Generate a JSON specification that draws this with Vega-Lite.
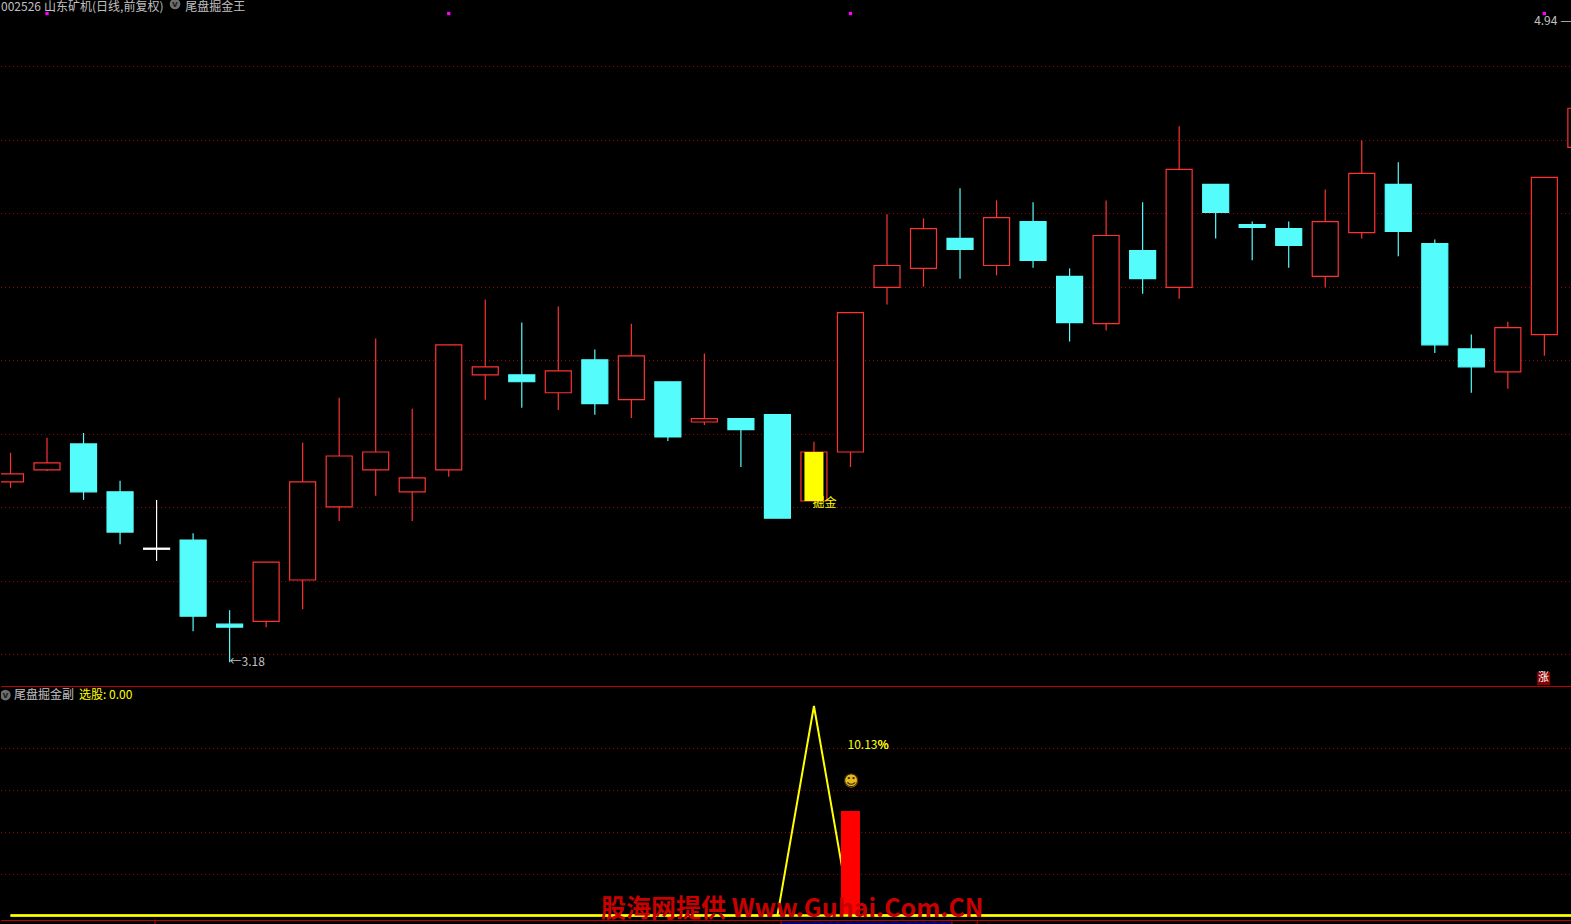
{"$schema":"https://vega.github.io/schema/vega-lite/v6.json","background":"#000000","padding":0,"spacing":0,"config":{"view":{"stroke":null},"text":{"font":"Noto Sans CJK SC"}},
"datasets":{"candles":[
{"i":0,"open":3.672,"close":3.694,"high":3.752,"low":3.656,"dir":"up"},
{"i":1,"open":3.705,"close":3.724,"high":3.793,"low":3.702,"dir":"up"},
{"i":2,"open":3.776,"close":3.645,"high":3.806,"low":3.623,"dir":"down"},
{"i":3,"open":3.645,"close":3.535,"high":3.675,"low":3.502,"dir":"down"},
{"i":4,"open":3.491,"close":3.488,"high":3.623,"low":3.456,"dir":"doji"},
{"i":5,"open":3.513,"close":3.305,"high":3.532,"low":3.264,"dir":"down"},
{"i":6,"open":3.283,"close":3.275,"high":3.321,"low":3.179,"dir":"down"},
{"i":7,"open":3.291,"close":3.453,"high":3.453,"low":3.275,"dir":"up"},
{"i":8,"open":3.404,"close":3.672,"high":3.779,"low":3.324,"dir":"up"},
{"i":9,"open":3.604,"close":3.743,"high":3.902,"low":3.565,"dir":"up"},
{"i":10,"open":3.705,"close":3.754,"high":4.064,"low":3.634,"dir":"up"},
{"i":11,"open":3.645,"close":3.683,"high":3.872,"low":3.565,"dir":"up"},
{"i":12,"open":3.705,"close":4.047,"high":4.047,"low":3.686,"dir":"up"},
{"i":13,"open":3.965,"close":3.987,"high":4.171,"low":3.897,"dir":"up"},
{"i":14,"open":3.965,"close":3.946,"high":4.108,"low":3.875,"dir":"down"},
{"i":15,"open":3.916,"close":3.976,"high":4.152,"low":3.869,"dir":"up"},
{"i":16,"open":4.006,"close":3.886,"high":4.034,"low":3.856,"dir":"down"},
{"i":17,"open":3.897,"close":4.017,"high":4.105,"low":3.847,"dir":"up"},
{"i":18,"open":3.946,"close":3.795,"high":3.946,"low":3.784,"dir":"down"},
{"i":19,"open":3.836,"close":3.845,"high":4.023,"low":3.828,"dir":"up"},
{"i":20,"open":3.845,"close":3.815,"high":3.845,"low":3.713,"dir":"down"},
{"i":21,"open":3.856,"close":3.573,"high":3.856,"low":3.573,"dir":"down"},
{"i":22,"open":3.62,"close":3.754,"high":3.782,"low":3.62,"dir":"up"},
{"i":23,"open":3.754,"close":4.135,"high":4.135,"low":3.713,"dir":"up"},
{"i":24,"open":4.204,"close":4.264,"high":4.404,"low":4.157,"dir":"up"},
{"i":25,"open":4.256,"close":4.365,"high":4.393,"low":4.206,"dir":"up"},
{"i":26,"open":4.338,"close":4.308,"high":4.475,"low":4.228,"dir":"down"},
{"i":27,"open":4.264,"close":4.395,"high":4.442,"low":4.237,"dir":"up"},
{"i":28,"open":4.384,"close":4.278,"high":4.437,"low":4.258,"dir":"down"},
{"i":29,"open":4.234,"close":4.108,"high":4.256,"low":4.056,"dir":"down"},
{"i":30,"open":4.105,"close":4.346,"high":4.442,"low":4.086,"dir":"up"},
{"i":31,"open":4.305,"close":4.228,"high":4.437,"low":4.187,"dir":"down"},
{"i":32,"open":4.204,"close":4.527,"high":4.645,"low":4.173,"dir":"up"},
{"i":33,"open":4.486,"close":4.409,"high":4.486,"low":4.338,"dir":"down"},
{"i":34,"open":4.376,"close":4.368,"high":4.384,"low":4.278,"dir":"down"},
{"i":35,"open":4.365,"close":4.319,"high":4.384,"low":4.258,"dir":"down"},
{"i":36,"open":4.234,"close":4.384,"high":4.472,"low":4.204,"dir":"up"},
{"i":37,"open":4.354,"close":4.516,"high":4.606,"low":4.338,"dir":"up"},
{"i":38,"open":4.486,"close":4.357,"high":4.546,"low":4.289,"dir":"down"},
{"i":39,"open":4.324,"close":4.047,"high":4.335,"low":4.025,"dir":"down"},
{"i":40,"open":4.036,"close":3.987,"high":4.075,"low":3.916,"dir":"down"},
{"i":41,"open":3.973,"close":4.094,"high":4.11,"low":3.927,"dir":"up"},
{"i":42,"open":4.075,"close":4.505,"high":4.505,"low":4.017,"dir":"up"},
{"i":43,"open":4.587,"close":4.694,"high":4.94,"low":4.587,"dir":"up"}
],
"signal":[{"i":0,"v":0},{"i":1,"v":0},{"i":2,"v":0},{"i":3,"v":0},{"i":4,"v":0},{"i":5,"v":0},{"i":6,"v":0},{"i":7,"v":0},{"i":8,"v":0},{"i":9,"v":0},{"i":10,"v":0},{"i":11,"v":0},{"i":12,"v":0},{"i":13,"v":0},{"i":14,"v":0},{"i":15,"v":0},{"i":16,"v":0},{"i":17,"v":0},{"i":18,"v":0},{"i":19,"v":0},{"i":20,"v":0},{"i":21,"v":0},{"i":22,"v":100},{"i":23,"v":0},{"i":24,"v":0},{"i":25,"v":0},{"i":26,"v":0},{"i":27,"v":0},{"i":28,"v":0},{"i":29,"v":0},{"i":30,"v":0},{"i":31,"v":0},{"i":32,"v":0},{"i":33,"v":0},{"i":34,"v":0},{"i":35,"v":0},{"i":36,"v":0},{"i":37,"v":0},{"i":38,"v":0},{"i":39,"v":0},{"i":40,"v":0},{"i":41,"v":0},{"i":42,"v":0},{"i":43,"v":0}]},
"vconcat":[
{"width":1571,"height":685,
"encoding":{"x":{"field":"i","type":"quantitative","axis":null,"scale":{"domain":[-0.26,42.757],"nice":false,"zero":false,"padding":0}}},
"layer":[
{"data":{"values":[{"i":-0.26,"i2":42.757,"p":4.80815},{"i":-0.26,"i2":42.757,"p":4.60579},{"i":-0.26,"i2":42.757,"p":4.40616},{"i":-0.26,"i2":42.757,"p":4.2038},{"i":-0.26,"i2":42.757,"p":4.00418},{"i":-0.26,"i2":42.757,"p":3.80182},{"i":-0.26,"i2":42.757,"p":3.60219},{"i":-0.26,"i2":42.757,"p":3.39983},{"i":-0.26,"i2":42.757,"p":3.20021}]},"mark":{"type":"rule","color":"#a00000","strokeWidth":1,"strokeDash":[1,3]},
"encoding":{"x2":{"field":"i2"},"y":{"field":"p","type":"quantitative","axis":null,"scale":{"domain":[3.1168,4.99],"nice":false,"zero":false}}}},
{"data":{"name":"candles"},"mark":{"type":"rule","strokeWidth":1.2,"clip":true},
"encoding":{"y":{"field":"low","type":"quantitative","axis":null},"y2":{"field":"high"},
"stroke":{"field":"dir","type":"nominal","legend":null,"scale":{"domain":["up","down","doji"],"range":["#ff3232","#54fcfc","#ffffff"]}}}},
{"data":{"name":"candles"},"mark":{"type":"bar","size":26,"strokeWidth":1.2,"clip":true},
"encoding":{"y":{"field":"open","type":"quantitative","axis":null},"y2":{"field":"close"},
"fill":{"field":"dir","type":"nominal","legend":null,"scale":{"domain":["up","down","doji"],"range":["#000000","#54fcfc","#ffffff"]}},
"stroke":{"field":"dir","type":"nominal","legend":null}}},
{"data":{"values":[{"i":22,"low":3.62,"top":3.754}]},"mark":{"type":"bar","size":19,"color":"#ffff00","clip":true},
"encoding":{"y":{"field":"low","type":"quantitative","axis":null},"y2":{"field":"top"}}},
{"data":{"values":[{"i":1,"p":4.953},{"i":12,"p":4.953},{"i":23,"p":4.953},{"i":42,"p":4.953}]},"mark":{"type":"point","shape":"square","filled":true,"size":11,"color":"#ff00ff","opacity":1},
"encoding":{"y":{"field":"p","type":"quantitative","axis":null}}},
{"data":{"values":[{"i":-0.26,"p":4.972,"t":"002526"},{"i":0.919,"p":4.972,"t":"山东矿机(日线,前复权)"},{"i":4.787,"p":4.972,"t":"尾盘掘金王"},{"i":41.72,"p":4.933,"t":"4.94 ——"},{"i":6,"p":3.179,"t":"←3.18"}]},"mark":{"type":"text","align":"left","baseline":"middle","fontSize":12,"color":"#c0c0c0","clip":true},
"encoding":{"y":{"field":"p","type":"quantitative","axis":null},"text":{"field":"t"}}},
{"data":{"values":[{"i":4.505,"p":4.979}]},"mark":{"type":"point","shape":"circle","filled":true,"size":113,"color":"#6e6e6e","opacity":1,"clip":true},
"encoding":{"y":{"field":"p","type":"quantitative","axis":null}}},
{"data":{"values":[{"i":4.505,"p":4.979,"t":"v"}]},"mark":{"type":"text","align":"center","baseline":"middle","font":"DejaVu Sans","fontSize":9,"fontWeight":"bold","color":"#202020","clip":true},
"encoding":{"y":{"field":"p","type":"quantitative","axis":null},"text":{"field":"t"}}},
{"data":{"values":[{"i":22.29,"p":3.614,"t":"掘金"}]},"mark":{"type":"text","align":"center","baseline":"middle","fontSize":12,"color":"#ffff00"},
"encoding":{"y":{"field":"p","type":"quantitative","axis":null},"text":{"field":"t"}}},
{"data":{"values":[{"i":41.98,"p":3.1347}]},"mark":{"type":"point","shape":"square","filled":true,"size":169,"color":"#8a0000","opacity":1},
"encoding":{"y":{"field":"p","type":"quantitative","axis":null}}},
{"data":{"values":[{"i":41.98,"p":3.1347,"t":"涨"}]},"mark":{"type":"text","align":"center","baseline":"middle","fontSize":11,"color":"#ffffff"},
"encoding":{"y":{"field":"p","type":"quantitative","axis":null},"text":{"field":"t"}}}
]},
{"width":1571,"height":239,
"encoding":{"x":{"field":"i","type":"quantitative","axis":null,"scale":{"domain":[-0.26,42.757],"nice":false,"zero":false,"padding":0}}},
"layer":[
{"data":{"values":[{"i":-0.26,"i2":42.757,"p":79.71},{"i":-0.26,"i2":42.757,"p":59.67},{"i":-0.26,"i2":42.757,"p":39.62},{"i":-0.26,"i2":42.757,"p":19.57}]},"mark":{"type":"rule","color":"#a00000","strokeWidth":1,"strokeDash":[1,3]},
"encoding":{"x2":{"field":"i2"},"y":{"field":"p","type":"quantitative","axis":null,"scale":{"domain":[-4.06,110.02],"nice":false,"zero":false}}}},
{"data":{"values":[{"i":21.1,"i2":25.78,"a":-3,"b":-4.06}]},"mark":{"type":"rect","color":"#000070"},
"encoding":{"x2":{"field":"i2"},"y":{"field":"a","type":"quantitative","axis":null},"y2":{"field":"b"}}},
{"data":{"values":[{"i":3.957,"a":-2.39,"b":-4.06},{"i":21.1,"a":-2.39,"b":-4.06},{"i":25.78,"a":-2.39,"b":-4.06},{"i":26.47,"a":-2.39,"b":-4.06}]},"mark":{"type":"rule","color":"#c00000","strokeWidth":1},
"encoding":{"y":{"field":"a","type":"quantitative","axis":null},"y2":{"field":"b"}}},
{"data":{"values":[{"i":-0.26,"i2":42.757,"p":109.31},{"i":-0.26,"i2":42.757,"p":-2.39}]},"mark":{"type":"rule","color":"#c00000","strokeWidth":1},
"encoding":{"x2":{"field":"i2"},"y":{"field":"p","type":"quantitative","axis":null}}},
{"data":{"name":"signal"},"mark":{"type":"line","color":"#ffff00","strokeWidth":2,"clip":true},
"encoding":{"y":{"field":"v","type":"quantitative","axis":null}}},
{"data":{"values":[{"i":23,"base":0,"v":49.9}]},"mark":{"type":"bar","size":19,"color":"#ff0000"},
"encoding":{"y":{"field":"base","type":"quantitative","axis":null},"y2":{"field":"v"}}},
{"data":{"values":[{"i":0,"i2":42.757,"p":0}]},"mark":{"type":"rule","color":"#ffff00","strokeWidth":2.4},
"encoding":{"x2":{"field":"i2"},"y":{"field":"p","type":"quantitative","axis":null}}},
{"data":{"values":[{"i":-0.14,"p":105.2}]},"mark":{"type":"point","shape":"circle","filled":true,"size":113,"color":"#6e6e6e","opacity":1,"clip":true},
"encoding":{"y":{"field":"p","type":"quantitative","axis":null}}},
{"data":{"values":[{"i":-0.14,"p":105.2,"t":"v"}]},"mark":{"type":"text","align":"center","baseline":"middle","font":"DejaVu Sans","fontSize":9,"fontWeight":"bold","color":"#202020"},
"encoding":{"y":{"field":"p","type":"quantitative","axis":null},"text":{"field":"t"}}},
{"data":{"values":[{"i":0.096,"p":105.2,"t":"尾盘掘金副"}]},"mark":{"type":"text","align":"left","baseline":"middle","fontSize":12,"color":"#c0c0c0"},
"encoding":{"y":{"field":"p","type":"quantitative","axis":null},"text":{"field":"t"}}},
{"data":{"values":[{"i":1.876,"p":105.2,"t":"选股: 0.00"},{"i":22.92,"p":81.4,"t":"10.13%"},{"i":23.75,"p":81.4,"t":"%"}]},"mark":{"type":"text","align":"left","baseline":"middle","fontSize":12,"color":"#ffff00"},
"encoding":{"y":{"field":"p","type":"quantitative","axis":null},"text":{"field":"t"}}},
{"data":{"values":[{"i":23.02,"p":64.3}]},"mark":{"type":"point","shape":"circle","filled":true,"size":185,"color":"#e8b820","opacity":1},
"encoding":{"y":{"field":"p","type":"quantitative","axis":null}}},
{"data":{"values":[{"i":23.02,"p":64.3,"t":"☺"}]},"mark":{"type":"text","align":"center","baseline":"middle","font":"DejaVu Sans","fontSize":16,"color":"#3a2a00"},
"encoding":{"y":{"field":"p","type":"quantitative","axis":null},"text":{"field":"t"}}},
{"data":{"values":[{"i":16.17,"p":3.2,"t":"股海网提供 Www.Guhai.Com.CN"}]},"mark":{"type":"text","align":"left","baseline":"middle","fontSize":25,"fontWeight":"bold","color":"#c80000"},
"encoding":{"y":{"field":"p","type":"quantitative","axis":null},"text":{"field":"t"}}}
]}
]}
